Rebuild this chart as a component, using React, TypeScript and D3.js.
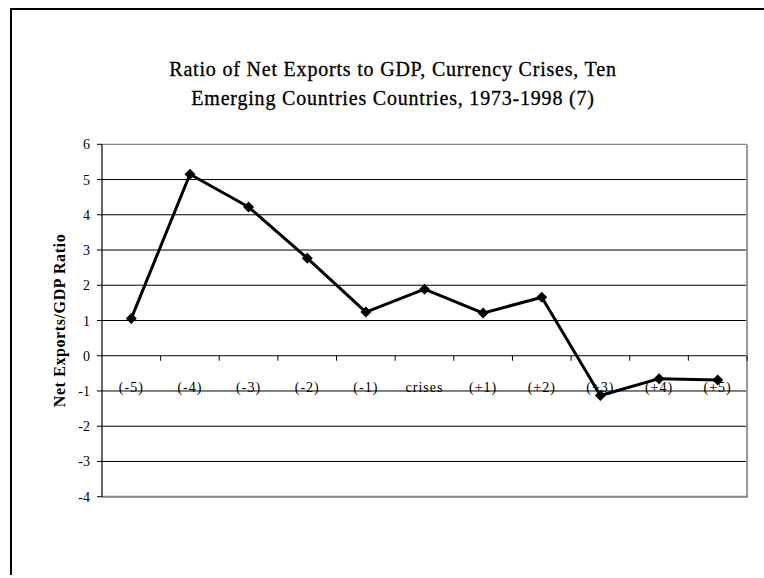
import React from "react";
import * as d3 from "d3";

const categories = ["(-5)", "(-4)", "(-3)", "(-2)", "(-1)", "crises", "(+1)", "(+2)", "(+3)", "(+4)", "(+5)"];
const values = [1.06, 5.15, 4.22, 2.77, 1.24, 1.89, 1.21, 1.66, -1.13, -0.65, -0.69];
const yTicks = [-4, -3, -2, -1, 0, 1, 2, 3, 4, 5, 6];
const titleLines = ["Ratio of Net Exports to GDP, Currency Crises, Ten", "Emerging Countries Countries, 1973-1998 (7)"];
const yTitle = "Net Exports/GDP Ratio";

export default function App() {
  const W = 764, H = 578;
  const left = 102, right = 747, top = 144.3, bottom = 496.7;
  const x = d3.scaleBand<string>().domain(categories).range([left, right]);
  const y = d3.scaleLinear().domain([-4, 6]).range([bottom, top]);
  const cx = (c: string) => (x(c) as number) + x.bandwidth() / 2;
  const line = d3.line<number>().x((_, i) => cx(categories[i])).y((v) => y(v));
  const font = "'Liberation Serif', 'Times New Roman', serif";
  const ms = 5.5;
  return (
    <svg width={W} height={H} style={{ position: "absolute", left: 0, top: 0, display: "block" }} fontFamily={font}>
      <rect x={0} y={0} width={W} height={H} fill="white" />
      <line x1={10} x2={W} y1={9} y2={9} stroke="#000" strokeWidth={2} />
      <line x1={11} x2={11} y1={8} y2={H - 3} stroke="#000" strokeWidth={2} />
      {titleLines.map((t, i) => (
        <text key={i} x={393} y={76 + i * 29} textAnchor="middle" fontSize={20} fill="#000" letterSpacing={0.8} stroke="#000" strokeWidth={0.3}>
          {t}
        </text>
      ))}
      {yTicks.map((t) => (
        <line key={"g" + t} x1={left} x2={right} y1={y(t)} y2={y(t)} stroke={t === 6 ? "#666" : "#000"} strokeWidth={1} />
      ))}
      <line x1={right} x2={right} y1={top} y2={bottom} stroke="#999" strokeWidth={2} />
      <line x1={left} x2={right + 1} y1={bottom} y2={bottom} stroke="#888" strokeWidth={2} />
      <line x1={left} x2={left} y1={top} y2={bottom} stroke="#000" strokeWidth={1.2} />
      {yTicks.map((t) => (
        <g key={"t" + t}>
          <line x1={left - 5} x2={left} y1={y(t)} y2={y(t)} stroke="#000" strokeWidth={1} />
          <text x={left - 12} y={y(t) + 5} textAnchor="end" fontSize={14} fill="#000">
            {t}
          </text>
        </g>
      ))}
      {categories.map((c) => (
        <g key={"c" + c}>
          <line x1={(x(c) as number) + x.bandwidth()} x2={(x(c) as number) + x.bandwidth()} y1={y(0)} y2={y(0) + 5} stroke="#000" strokeWidth={1} />
          <text x={cx(c)} y={y(0) + 36} textAnchor="middle" fontSize={14} fill="#000" letterSpacing={1}>
            {c}
          </text>
        </g>
      ))}
      <path d={line(values) as string} fill="none" stroke="#000" strokeWidth={3} strokeLinejoin="round" />
      {values.map((v, i) => {
        const px = cx(categories[i]), py = y(v);
        return <path key={"m" + i} d={`M${px},${py - ms}L${px + ms},${py}L${px},${py + ms}L${px - ms},${py}Z`} fill="#000" />;
      })}
      <text transform={`translate(65,${(top + bottom) / 2}) rotate(-90)`} textAnchor="middle" fontSize={16} fontWeight="bold" fill="#000" letterSpacing={0.6}>
        {yTitle}
      </text>
    </svg>
  );
}
